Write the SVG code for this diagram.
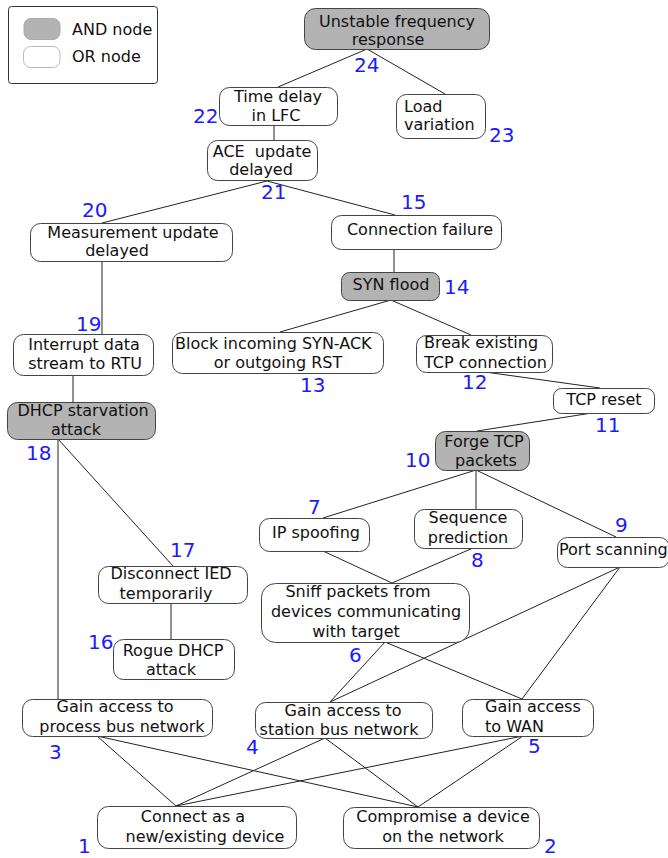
<svg xmlns="http://www.w3.org/2000/svg" width="668" height="858" viewBox="0 0 668 858">
<style>
text{font-family:"DejaVu Sans",Verdana,sans-serif;font-size:16px;fill:#111}
.c{text-anchor:middle}
.n{font-size:20px;fill:#1a1aff}
.or{fill:#fff;stroke:#444;stroke-width:1}
.and{fill:#b3b3b3;stroke:#444;stroke-width:1}
#connectors line{stroke:#222;stroke-width:1}
</style>
<rect width="668" height="858" fill="#fff"/>
<g id="legend">
<rect x="8.5" y="6.5" width="149" height="77" rx="3" fill="#fff" stroke="#333"/>
<rect x="24" y="18.5" width="36" height="21" rx="7" fill="#b3b3b3" stroke="#aaa"/>
<rect x="23.5" y="46.5" width="36.5" height="21" rx="7" fill="#fff" stroke="#bbb"/>
<text x="72" y="35">AND node</text>
<text x="72" y="62">OR node</text>
</g>
<g id="connectors">
<line x1="367" y1="49" x2="278" y2="87"/>
<line x1="367" y1="49" x2="445" y2="94"/>
<line x1="274" y1="125" x2="274" y2="140"/>
<line x1="267" y1="181" x2="102" y2="223"/>
<line x1="267" y1="181" x2="395" y2="215"/>
<line x1="102" y1="261" x2="102" y2="334"/>
<line x1="73" y1="375" x2="73" y2="402"/>
<line x1="58" y1="439" x2="58" y2="699"/>
<line x1="58" y1="439" x2="173" y2="566"/>
<line x1="171" y1="603" x2="171" y2="639"/>
<line x1="394" y1="249" x2="394" y2="272"/>
<line x1="391" y1="300" x2="280" y2="332"/>
<line x1="391" y1="300" x2="471" y2="335"/>
<line x1="485" y1="372" x2="600" y2="388"/>
<line x1="592" y1="413" x2="477" y2="431"/>
<line x1="476" y1="470" x2="323" y2="518"/>
<line x1="476" y1="470" x2="476" y2="509"/>
<line x1="476" y1="470" x2="616" y2="537"/>
<line x1="323" y1="551" x2="392" y2="583"/>
<line x1="473" y1="548" x2="392" y2="583"/>
<line x1="620" y1="567" x2="330" y2="702"/>
<line x1="620" y1="567" x2="522" y2="699"/>
<line x1="385" y1="642" x2="330" y2="702"/>
<line x1="385" y1="642" x2="522" y2="699"/>
<line x1="97" y1="736" x2="176" y2="806"/>
<line x1="97" y1="736" x2="418" y2="807"/>
<line x1="325" y1="738" x2="176" y2="806"/>
<line x1="325" y1="738" x2="418" y2="807"/>
<line x1="523" y1="736" x2="176" y2="806"/>
<line x1="523" y1="736" x2="418" y2="807"/>
</g>
<g id="n24"><rect class="and" x="304.5" y="8.5" width="185" height="41" rx="11"/>
<text class="c" x="397" y="27">Unstable frequency</text><text class="c" x="388" y="45">response</text>
<text class="n" x="354" y="72">24</text></g>
<g id="n22"><rect class="or" x="219.5" y="87.5" width="118" height="38" rx="10"/>
<text class="c" x="278" y="102">Time delay</text><text class="c" x="276" y="121">in LFC</text>
<text class="n" x="193" y="123">22</text></g>
<g id="n23"><rect class="or" x="396.5" y="94.5" width="89" height="44" rx="10"/>
<text x="404" y="112">Load</text><text x="404" y="130">variation</text>
<text class="n" x="489" y="142">23</text></g>
<g id="n21"><rect class="or" x="207.5" y="140.5" width="110" height="40" rx="10"/>
<text class="c" x="262" y="157" xml:space="preserve">ACE  update</text><text class="c" x="261" y="175">delayed</text>
<text class="n" x="261" y="199">21</text></g>
<g id="n20"><rect class="or" x="30.5" y="223.5" width="202" height="38" rx="10"/>
<text class="c" x="133" y="238">Measurement update</text><text class="c" x="117" y="256">delayed</text>
<text class="n" x="82" y="217">20</text></g>
<g id="n19"><rect class="or" x="13.5" y="334.5" width="140" height="41" rx="10"/>
<text class="c" x="84" y="350">Interrupt data</text><text class="c" x="85" y="369">stream to RTU</text>
<text class="n" x="76" y="331">19</text></g>
<g id="n18"><rect class="and" x="7.5" y="402.5" width="148" height="37" rx="10"/>
<text class="c" x="83" y="416">DHCP starvation</text><text class="c" x="76" y="435">attack</text>
<text class="n" x="26" y="460">18</text></g>
<g id="n15"><rect class="or" x="331.5" y="215.5" width="170" height="34" rx="10"/>
<text class="c" x="420" y="235">Connection failure</text>
<text class="n" x="401" y="209">15</text></g>
<g id="n14"><rect class="and" x="341.5" y="272.5" width="98" height="28" rx="8"/>
<text class="c" x="391" y="290">SYN flood</text>
<text class="n" x="444" y="294">14</text></g>
<g id="n13"><rect class="or" x="172.5" y="332.5" width="211" height="41" rx="10"/>
<text x="175" y="349">Block incoming SYN-ACK</text><text class="c" x="278" y="368">or outgoing RST</text>
<text class="n" x="300" y="392">13</text></g>
<g id="n12"><rect class="or" x="416.5" y="335.5" width="136" height="37" rx="10"/>
<text x="424" y="348">Break existing</text><text x="424" y="368">TCP connection</text>
<text class="n" x="462" y="389">12</text></g>
<g id="n11"><rect class="or" x="553.5" y="388.5" width="101" height="25" rx="8"/>
<text class="c" x="604" y="405">TCP reset</text>
<text class="n" x="595" y="432">11</text></g>
<g id="n10"><rect class="and" x="435.5" y="431.5" width="94" height="39" rx="10"/>
<text class="c" x="484" y="447">Forge TCP</text><text class="c" x="486" y="466">packets</text>
<text class="n" x="405" y="467">10</text></g>
<g id="n7"><rect class="or" x="259.5" y="518.5" width="110" height="33" rx="10"/>
<text class="c" x="316" y="538">IP spoofing</text>
<text class="n" x="308" y="514">7</text></g>
<g id="n8"><rect class="or" x="414.5" y="509.5" width="108" height="39" rx="10"/>
<text class="c" x="468" y="523">Sequence</text><text class="c" x="468" y="543">prediction</text>
<text class="n" x="471" y="567">8</text></g>
<g id="n9"><rect class="or" x="557.5" y="537.5" width="112" height="30" rx="10"/>
<text x="559" y="555">Port scanning</text>
<text class="n" x="615" y="532">9</text></g>
<g id="n6"><rect class="or" x="261.5" y="583.5" width="208" height="59" rx="14"/>
<text class="c" x="358" y="597">Sniff packets from</text><text class="c" x="366" y="617">devices communicating</text><text class="c" x="356" y="637">with target</text>
<text class="n" x="349" y="662">6</text></g>
<g id="n17"><rect class="or" x="98.5" y="566.5" width="149" height="37" rx="10"/>
<text class="c" x="171" y="579">Disconnect IED</text><text class="c" x="166" y="599">temporarily</text>
<text class="n" x="170" y="557">17</text></g>
<g id="n16"><rect class="or" x="113.5" y="639.5" width="121" height="40" rx="10"/>
<text class="c" x="173" y="656">Rogue DHCP</text><text class="c" x="171" y="675">attack</text>
<text class="n" x="88" y="649">16</text></g>
<g id="n3"><rect class="or" x="22.5" y="699.5" width="190" height="37" rx="10"/>
<text class="c" x="115" y="712">Gain access to</text><text class="c" x="122" y="732">process bus network</text>
<text class="n" x="49" y="759">3</text></g>
<g id="n4"><rect class="or" x="255.5" y="702.5" width="177" height="36" rx="10"/>
<text class="c" x="343" y="716">Gain access to</text><text class="c" x="339" y="735">station bus network</text>
<text class="n" x="246" y="754">4</text></g>
<g id="n5"><rect class="or" x="462.5" y="699.5" width="131" height="37" rx="10"/>
<text x="485" y="712">Gain access</text><text x="485" y="732">to WAN</text>
<text class="n" x="528" y="753">5</text></g>
<g id="n1"><rect class="or" x="97.5" y="806.5" width="199" height="42" rx="11"/>
<text class="c" x="193" y="822">Connect as a</text><text class="c" x="205" y="842">new/existing device</text>
<text class="n" x="78" y="853">1</text></g>
<g id="n2"><rect class="or" x="343.5" y="807.5" width="196" height="41" rx="11"/>
<text class="c" x="443" y="822">Compromise a device</text><text class="c" x="443" y="842">on the network</text>
<text class="n" x="544" y="853">2</text></g>
</svg>
